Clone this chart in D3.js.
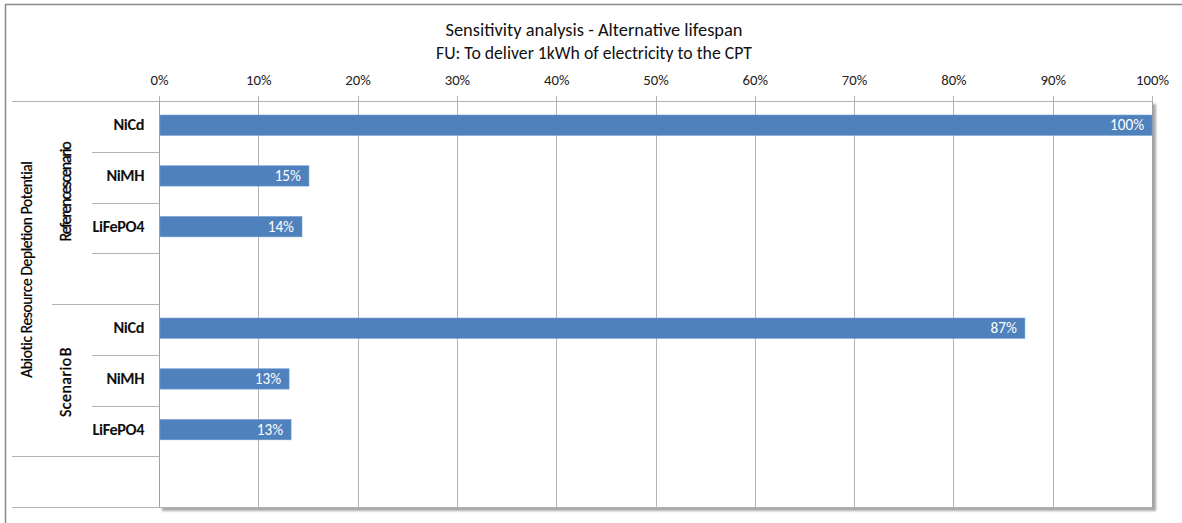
<!DOCTYPE html>
<html>
<head>
<meta charset="utf-8">
<script src="https://cdn.jsdelivr.net/npm/d3@7"></script>
<style>
  html, body { margin: 0; padding: 0; background: #fff; }
  svg { display: block; }
</style>
</head>
<body>
<svg id="chart" width="1182" height="523"></svg>
<script>
// Chart text
const titleLines = ["Sensitivity analysis - Alternative lifespan", "FU: To deliver 1kWh of electricity to the CPT"];
const indicator = "Abiotic Resource Depletion Potential";
const scenarios = ["Reference scenario", "Scenario B"];
const batteries = ["NiCd", "NiMH", "LiFePO4"];

// Share of the reference NiCd result (percent)
const referenceValues = [100, 15.1, 14.4];
const scenarioBValues = [87.2, 13.1, 13.3];

// Axis ticks (percent)
const tickValues = [0, 10, 20, 30, 40, 50, 60, 70, 80, 90, 100];

const svg = d3.select("#chart");
const W = 1182, H = 523;
const plotLeft = 159, plotRight = 1152, plotTop = 101, plotBottom = 507;

const font = "Carlito, Calibri, 'Open Sans', sans-serif";

// Scale a text's font size so that it spans the wanted width
function fitWidth(sel, target) {
  sel.each(function () {
    const el = d3.select(this);
    const size = parseFloat(el.attr("font-size"));
    const len = this.getComputedTextLength();
    if (len > 0) el.attr("font-size", (size * target / len).toFixed(2));
  });
}

// Tighten letter spacing so that a text spans the wanted width
function fitSpacing(sel, target) {
  sel.each(function () {
    const el = d3.select(this);
    const len = this.getComputedTextLength();
    const n = el.text().length;
    el.attr("letter-spacing", ((target - len) / n).toFixed(2));
  });
}

// Row slots: each scenario gets its batteries plus one blank spacer row
const rows = [];
scenarios.forEach((s, si) => {
  const vals = si === 0 ? referenceValues : scenarioBValues;
  batteries.forEach((b, bi) => rows.push({ id: s + "|" + b, scenario: s, label: b, value: vals[bi] }));
  rows.push({ id: s + "|blank", scenario: s, label: "", value: null });
});

const x = d3.scaleLinear().domain([0, 100]).range([plotLeft, plotRight]);
const y = d3.scaleBand().domain(rows.map(r => r.id)).range([plotTop, plotBottom]);
const barH = y.bandwidth() * 0.4;

// Outer chart frame
svg.append("rect").attr("x", 0).attr("y", 0).attr("width", W).attr("height", H).attr("fill", "#fff");
svg.append("rect").attr("x", 5.5).attr("y", 4.5).attr("width", 1300).attr("height", 700)
  .attr("fill", "none").attr("stroke", "#8a8a8a").attr("stroke-width", 1.5);

// Plot area with its soft shadow
const defs = svg.append("defs");
const f = defs.append("filter").attr("id", "shadow").attr("x", "-5%").attr("y", "-5%").attr("width", "110%").attr("height", "120%");
f.append("feGaussianBlur").attr("stdDeviation", 1.2);
svg.append("rect")
  .attr("x", plotLeft + 3).attr("y", plotTop + 3)
  .attr("width", plotRight - plotLeft + 1).attr("height", plotBottom - plotTop + 1)
  .attr("fill", "#a8a8a8").attr("filter", "url(#shadow)");
svg.append("rect")
  .attr("x", plotLeft).attr("y", plotTop)
  .attr("width", plotRight - plotLeft).attr("height", plotBottom - plotTop)
  .attr("fill", "#fff");

// Vertical gridlines with ticks above the plot
svg.append("g").selectAll("line").data(tickValues).join("line")
  .attr("x1", d => Math.round(x(d)) + 0.5).attr("x2", d => Math.round(x(d)) + 0.5)
  .attr("y1", plotTop - 5).attr("y2", plotBottom)
  .attr("stroke", "#b3b3b3").attr("stroke-width", 1);

// Top axis labels
const xAxis = d3.axisTop(x).tickValues(tickValues).tickFormat(d => d + "%").tickSize(0).tickPadding(0);
const gx = svg.append("g").attr("transform", `translate(0,${plotTop - 16})`).call(xAxis);
gx.select(".domain").remove();
gx.selectAll("text").attr("font-family", font).attr("font-size", 13).attr("fill", "#222").attr("dy", 0);
{
  const last = gx.selectAll("text").filter(d => d === 100).node();
  const size = 13 * 33 / last.getComputedTextLength();
  gx.selectAll("text").attr("font-size", size.toFixed(2));
}

// Plot frame lines
svg.append("line").attr("x1", 12).attr("x2", plotRight).attr("y1", plotTop + 0.5).attr("y2", plotTop + 0.5)
  .attr("stroke", "#b3b3b3");
svg.append("line").attr("x1", plotRight + 0.5).attr("x2", plotRight + 0.5).attr("y1", plotTop).attr("y2", plotBottom)
  .attr("stroke", "#a0a0a0");
svg.append("line").attr("x1", 12).attr("x2", plotRight).attr("y1", plotBottom + 0.5).attr("y2", plotBottom + 0.5)
  .attr("stroke", "#b3b3b3");

// Category separators (multi-level axis)
const sepData = [];
rows.forEach((r, i) => {
  if (i === 0) return;
  sepData.push({ y: y(r.id), x1: r.label === "NiCd" ? 52 : 92 });
});
// Separator closing the indicator group above the trailing blank row
sepData[sepData.length - 1].x1 = 12;
svg.append("g").selectAll("line").data(sepData).join("line")
  .attr("x1", d => d.x1).attr("x2", plotLeft)
  .attr("y1", d => Math.round(d.y) + 0.5).attr("y2", d => Math.round(d.y) + 0.5)
  .attr("stroke", "#b3b3b3");

// Category axis line
svg.append("line").attr("x1", plotLeft + 0.5).attr("x2", plotLeft + 0.5).attr("y1", plotTop).attr("y2", plotBottom)
  .attr("stroke", "#a0a0a0");

// Bars
const barRows = rows.filter(r => r.value !== null);
svg.append("g").selectAll("rect").data(barRows).join("rect")
  .attr("x", plotLeft + 1)
  .attr("y", d => y(d.id) + (y.bandwidth() - barH) / 2 - 1.2)
  .attr("width", d => x(d.value) - plotLeft - 1)
  .attr("height", barH)
  .attr("fill", "#4f81bd")
  .attr("stroke", "#6d9ad0").attr("stroke-width", 0.6);

// Value labels inside bar ends
const vals = svg.append("g").selectAll("text").data(barRows).join("text")
  .attr("x", d => x(d.value) - 8)
  .attr("y", d => y(d.id) + y.bandwidth() / 2 + 4)
  .attr("text-anchor", "end")
  .attr("font-family", font).attr("font-size", 13)
  .attr("fill", "#fff")
  .text(d => d3.format(".0f")(d.value) + "%");
{
  const first = vals.filter(d => d.value === 100).node();
  const size = 13 * 34 / first.getComputedTextLength();
  vals.attr("font-size", size.toFixed(2));
}

// Battery labels
const cats = svg.append("g").selectAll("text").data(barRows).join("text")
  .attr("x", 144)
  .attr("y", d => y(d.id) + y.bandwidth() / 2 + 4)
  .attr("text-anchor", "end")
  .attr("font-family", font).attr("font-size", 14).attr("font-weight", "bold")
  .attr("fill", "#111")
  .attr("letter-spacing", -0.4)
  .text(d => d.label);
{
  const lf = cats.filter(d => d.label === "LiFePO4").node();
  const size = 14 * 51 / lf.getComputedTextLength();
  cats.attr("font-size", size.toFixed(2));
}

// Scenario labels (rotated)
const scenarioLabels = [
  { name: scenarios[0], cy: y(scenarios[0] + "|NiCd") + 91, len: 99 },
  { name: scenarios[1], cy: (y(scenarios[1] + "|NiCd") + y(scenarios[1] + "|blank")) / 2 + 2, len: 70 }
];
svg.append("g").selectAll("text").data(scenarioLabels).join("text")
  .attr("transform", d => `translate(71,${d.cy}) rotate(-90)`)
  .attr("text-anchor", "middle")
  .attr("font-family", font).attr("font-size", 16)
  .attr("fill", "#000").attr("stroke", "#000").attr("stroke-width", 0.35)
  .attr("word-spacing", -3)
  .text(d => d.name)
  .each(function (d) { fitSpacing(d3.select(this), d.len); });

// Indicator label (rotated)
svg.append("text")
  .attr("transform", `translate(32,${(plotTop + y(scenarios[1] + "|blank")) / 2 - 9}) rotate(-90)`)
  .attr("text-anchor", "middle")
  .attr("font-family", font).attr("font-size", 15.5)
  .attr("fill", "#000").attr("stroke", "#000").attr("stroke-width", 0.2)
  .text(indicator)
  .call(sel => fitSpacing(sel, 216));

// Title
const titleWidths = [297, 316];
svg.append("g").selectAll("text").data(titleLines).join("text")
  .attr("x", 594).attr("y", (d, i) => 36 + i * 23)
  .attr("text-anchor", "middle")
  .attr("font-family", font).attr("font-size", 15)
  .attr("fill", "#111")
  .text(d => d)
  .each(function (d, i) { fitWidth(d3.select(this), titleWidths[i]); });
</script>
</body>
</html>
